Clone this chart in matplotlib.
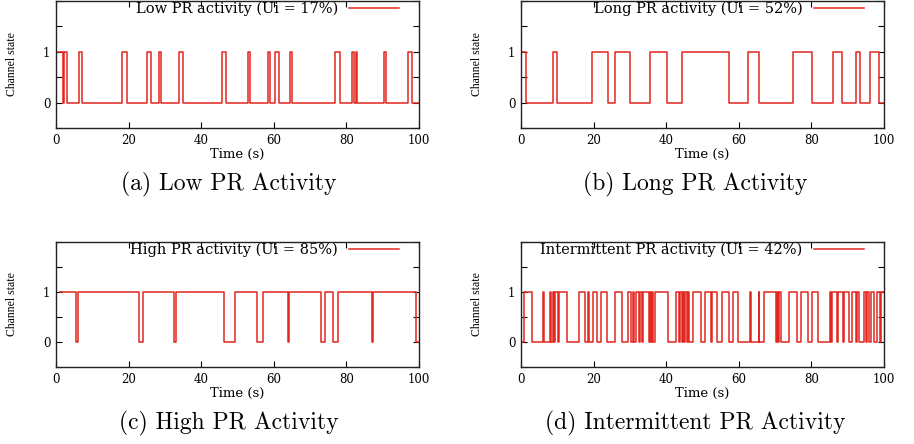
import numpy as np
import matplotlib.pyplot as plt

# tramos con el canal ocupado (estado 1), en segundos
low_on = [(0.6, 2.0), (2.2, 2.9), (6.2, 7.3), (18.1, 19.6), (25.1, 26.1),
          (28.3, 28.9), (33.9, 34.9), (45.6, 46.9), (52.8, 53.4), (58.4, 58.9),
          (60.4, 61.5), (64.6, 65.0), (76.9, 78.3), (81.6, 82.1), (82.6, 83.0),
          (90.3, 90.9), (97.0, 98.2)]
long_on = [(0.3, 1.3), (8.7, 10.0), (19.5, 24.1), (26.0, 30.0), (35.5, 40.3),
           (44.4, 57.4), (62.4, 65.6), (74.8, 80.3), (86.0, 88.5), (92.3, 93.4),
           (96.1, 98.7)]
high_on = [(1.0, 5.6), (6.1, 22.9), (24.1, 32.4), (33.1, 46.3), (49.4, 55.5),
           (57.1, 63.9), (64.3, 73.1), (74.2, 76.4), (77.7, 87.1), (87.3, 99.2)]
inter_on = [(0.8, 2.9), (6.0, 6.2), (8.1, 8.4), (8.7, 9.1), (9.5, 10.3),
            (10.6, 12.6), (16.1, 17.7), (18.4, 18.6), (19.7, 20.9), (22.1, 23.6),
            (25.9, 27.8), (29.6, 30.3), (30.8, 31.1), (31.6, 32.4), (32.8, 33.2),
            (33.5, 35.3), (35.6, 35.8), (36.1, 36.4), (36.9, 40.6), (42.6, 43.5),
            (43.9, 44.4), (44.7, 45.0), (45.3, 45.6), (45.9, 46.2), (47.3, 49.6),
            (50.8, 52.4), (52.7, 54.0), (55.5, 57.4), (58.3, 59.9), (63.0, 63.3),
            (65.5, 65.7), (66.9, 70.3), (70.6, 70.9), (71.2, 71.5), (73.9, 76.0),
            (77.0, 79.0), (80.3, 81.7), (85.0, 85.4), (85.6, 87.0), (87.3, 88.6),
            (89.1, 90.4), (91.2, 92.3), (92.6, 93.2), (94.6, 95.0), (95.3, 96.0),
            (96.4, 97.3), (98.2, 99.0), (99.3, 100)]
inicios = [0.6, 0.3, 1.0, 0.0]

leyendas = ["Low PR activity (Ui = 17%)", "Long PR activity (Ui = 52%)",
            "High PR activity (Ui = 85%)", "Intermittent PR activity (Ui = 42%)"]
subtitulos = ["(a) Low PR Activity", "(b) Long PR Activity",
              "(c) High PR Activity", "(d) Intermittent PR Activity"]

x_ticks = [0, 20, 40, 60, 80, 100]
y_ticks = [-0.5, 0, 0.5, 1, 1.5, 2]
y_etiquetas = ["", "0", "", "1", "", ""]

rojo = "#e3271f"


def escalon(tramos, inicio, fin=100):
    t = [inicio]
    s = [1 if tramos[0][0] <= inicio else 0]
    for a, b in tramos:
        if a > inicio:
            t.append(a)
            s.append(1)
        if b < fin:
            t.append(b)
            s.append(0)
    t.append(fin)
    s.append(s[-1])
    return np.array(t), np.array(s)


plt.rcParams['font.family'] = ['DejaVu Serif']
fig = plt.figure(figsize=(9.14, 4.44), dpi=100)

W, H = 914, 444
# posiciones de los ejes en pixeles: izquierda, arriba, ancho, alto
cajas = [(56, 1, 363, 127), (521, 1, 363, 127),
         (56, 242, 363, 125), (521, 242, 363, 125)]
centros_sub = [(229, 184), (695, 184), (229, 423), (695, 423)]

for i, tramos in enumerate([low_on, long_on, high_on, inter_on]):
    x0, y0, w, h = cajas[i]
    ax = fig.add_axes([x0 / W, 1 - (y0 + h) / H, w / W, h / H])
    t, s = escalon(tramos, inicios[i])
    ax.step(t, s, where='post', color=rojo, lw=1.1, label=leyendas[i])
    ax.set_xlim(0, 100)
    ax.set_ylim(-0.5, 2)
    ax.set_xticks(x_ticks)
    ax.set_yticks(y_ticks)
    ax.set_yticklabels(y_etiquetas)
    ax.tick_params(direction='in', length=4, width=0.8, top=True, right=True,
                   labelsize=8.5, pad=4)
    for sp in ax.spines.values():
        sp.set_linewidth(1.0)
        sp.set_color('#222222')
    ax.set_xlabel("Time (s)", fontsize=9.5, labelpad=1)
    ax.set_ylabel("Channel state", fontsize=8.5, family='Liberation Serif', labelpad=18)
    ax.legend(loc='upper right', bbox_to_anchor=(1 - 20 / w, 1.0 - 1 / h),
              frameon=False, markerfirst=False, handlelength=3.4,
              handletextpad=0.8, fontsize=10.5, borderaxespad=0, borderpad=0)
    cx, cy = centros_sub[i]
    fig.text(cx / W, 1 - cy / H, subtitulos[i], family='cmr10', fontsize=17,
             ha='center', va='center')

fig.savefig("out.png", dpi=100)
